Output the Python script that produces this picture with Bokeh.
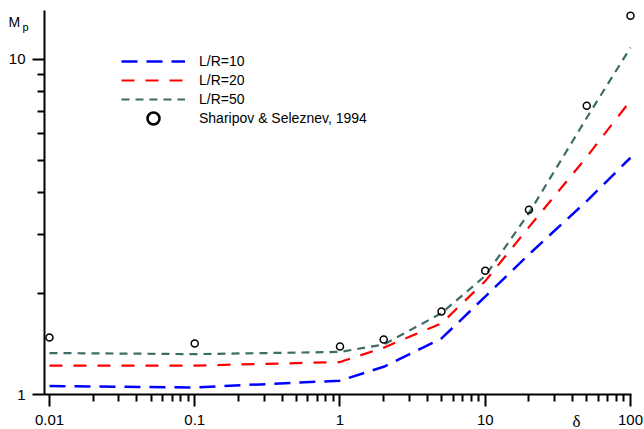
from bokeh.plotting import figure
from bokeh.models import (Range1d, FixedTicker, NumeralTickFormatter, Legend,
                          LegendItem, Label)
from bokeh.embed import file_html
from bokeh.resources import INLINE

# Rarefaction parameter and pressure ratio M_p
delta = [0.01, 0.1, 1, 2, 5, 10, 20, 50, 100]
mp_lr10 = [1.06, 1.05, 1.10, 1.21, 1.47, 1.96, 2.62, 3.78, 5.09]
mp_lr20 = [1.22, 1.22, 1.25, 1.38, 1.63, 2.18, 3.16, 5.12, 7.54]
mp_lr50 = [1.33, 1.32, 1.34, 1.41, 1.75, 2.26, 3.48, 6.70, 10.85]
mp_sharipov = [1.48, 1.42, 1.39, 1.46, 1.77, 2.34, 3.56, 7.28, 13.5]

series_labels = ["L/R=10", "L/R=20", "L/R=50"]
ref_label = "Sharipov & Seleznev, 1994"

x_major = [0.01, 0.1, 1, 10, 100]
y_major = [1, 10]
x_bounds = (0.00924, 101.6)
y_bounds = (1, 14.0)

FONT = "Liberation Sans"

# The frame fills the whole canvas; the axes are pinned at fixed locations
# so that the axis titles can sit beside them.
p = figure(width=644, height=429, x_axis_type="log", y_axis_type="log",
           x_range=Range1d(0.0046, 124.9), y_range=Range1d(0.7863, 15.0),
           output_backend="svg", toolbar_location=None, min_border=0)
p.outline_line_color = None
p.xgrid.visible = False
p.ygrid.visible = False
p.background_fill_color = "white"
p.border_fill_color = "white"

x_minor = [m * 10.0 ** e for e in range(-2, 2) for m in range(2, 10)]
y_minor = [m * 10.0 ** e for e in range(0, 2) for m in range(2, 10)]
p.xaxis.ticker = FixedTicker(ticks=x_major, minor_ticks=x_minor)
p.yaxis.ticker = FixedTicker(ticks=y_major, minor_ticks=y_minor)
p.xaxis.fixed_location = y_bounds[0]
p.yaxis.fixed_location = x_bounds[0]
p.xaxis.bounds = x_bounds
p.yaxis.bounds = y_bounds

for ax in (p.xaxis[0], p.yaxis[0]):
    ax.formatter = NumeralTickFormatter(format="0.[00]")
    ax.axis_line_width = 2
    ax.axis_line_color = "black"
    ax.major_tick_line_width = 2
    ax.minor_tick_line_width = 2
    ax.major_tick_line_color = "black"
    ax.minor_tick_line_color = "black"
    ax.major_tick_in = 0
    ax.major_tick_out = 12
    ax.minor_tick_in = 0
    ax.minor_tick_out = 7
    ax.major_label_text_font = FONT
    ax.major_label_text_font_size = "15px"
    ax.major_label_text_color = "black"
p.xaxis.major_label_standoff = 8
p.yaxis.major_label_standoff = 7

r10 = p.line(delta, mp_lr10, line_color="#0000ff", line_width=2.5, line_dash="16 9")
r20 = p.line(delta, mp_lr20, line_color="#ff0000", line_width=2.2, line_dash="13 11")
r50 = p.line(delta, mp_lr50, line_color="#3d6b67", line_width=2.2, line_dash="8 6")
p.scatter(delta, mp_sharipov, marker="circle", size=7, fill_color=None,
          line_color="black", line_width=1.5)

# bolder copy of the reference points, kept off-screen on its own range,
# used only as the legend key
p.extra_y_ranges = {"key": Range1d(1000, 2000)}
ref_key = p.scatter(delta, mp_sharipov, marker="circle", fill_color=None,
                    line_color="black", line_width=2.5, y_range_name="key")

def make_legend(items, loc, gh):
    return Legend(items=items, location=loc, orientation="vertical",
                  border_line_color=None, background_fill_alpha=0,
                  padding=0, margin=0, spacing=1, glyph_width=64,
                  glyph_height=gh, label_height=gh, label_standoff=14,
                  label_text_font=FONT, label_text_font_size="14px",
                  label_text_color="black")

leg_lines = make_legend([LegendItem(label=series_labels[0], renderers=[r10]),
                         LegendItem(label=series_labels[1], renderers=[r20]),
                         LegendItem(label=series_labels[2], renderers=[r50])],
                        (121, 321), 18)
leg_ref = make_legend([LegendItem(label=ref_label, renderers=[ref_key])],
                      (121, 296), 30)
p.add_layout(leg_lines)
p.add_layout(leg_ref)

# axis titles: M_p at the top of the y axis, delta at the right of the x axis
p.add_layout(Label(x=8, y=408, x_units="screen", y_units="screen", text="M",
                   text_font=FONT, text_font_size="14px", text_color="black",
                   text_baseline="alphabetic"))
p.add_layout(Label(x=22, y=403, x_units="screen", y_units="screen", text="p",
                   text_font=FONT, text_font_size="11px", text_color="black",
                   text_baseline="alphabetic"))
p.add_layout(Label(x=576, y=8, x_units="screen", y_units="screen", text="δ",
                   text_font="Liberation Serif", text_font_size="17px",
                   text_color="black", text_align="center",
                   text_baseline="alphabetic"))

open("out.html", "w").write(file_html(p, INLINE))
